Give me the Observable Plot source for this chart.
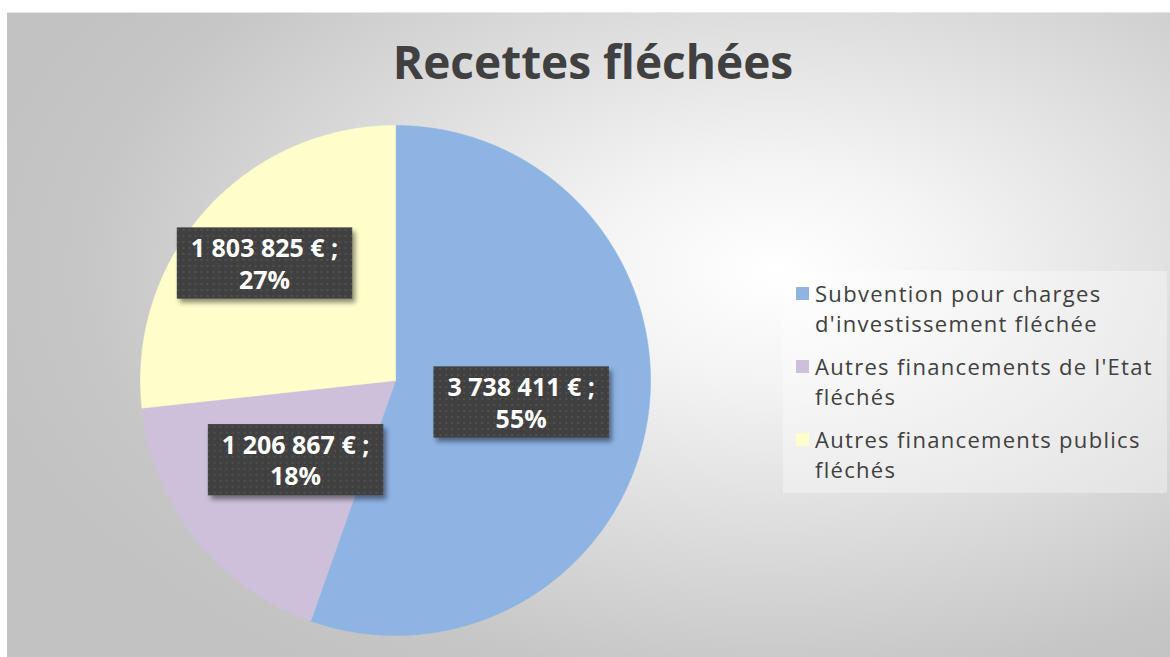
<!DOCTYPE html>
<html>
<head>
<meta charset="utf-8">
<script src="https://cdn.jsdelivr.net/npm/d3@7"></script>
<script src="https://cdn.jsdelivr.net/npm/@observablehq/plot@0.6"></script>
<style>
  html, body { margin: 0; padding: 0; background: #ffffff; }
  #chart {
    position: absolute; left: 7px; top: 12px; width: 1163px; height: 645px;
    background: radial-gradient(ellipse 70% 75% at 66% 40%, #ffffff 0%, #f4f4f4 22%, #dcdcdc 55%, #c6c6c6 85%, #c2c2c2 100%);
    border-top: 1px solid #e6e6e6;
    overflow: hidden;
    font-family: "Open Sans", sans-serif;
  }
  #chart svg { position: absolute; left: 0; top: 0; }
  #legend {
    position: absolute; left: 776px; top: 258px; width: 384px; height: 222px;
    background: rgba(255,255,255,0.35);
  }
  .item { position: absolute; left: 32px; font-size: 22px; line-height: 30px; letter-spacing: 1.3px; color: #404040; white-space: nowrap; }
  .sw { position: absolute; left: -19px; top: 9px; width: 13px; height: 13px; }
</style>
</head>
<body>
<div id="chart"><div id="legend"></div></div>
<script>
// ---- data ----
const categories = [
  "Subvention pour charges d'investissement fléchée",
  "Autres financements de l'Etat fléchés",
  "Autres financements publics fléchés"
];
const legendLines = [
  ["Subvention pour charges", "d'investissement fléchée"],
  ["Autres financements de l'Etat", "fléchés"],
  ["Autres financements publics", "fléchés"]
];
const values = [3738411, 1206867, 1803825];
const colors = ["#8EB4E3", "#CCC0DA", "#FFFFCC"];
const title = "Recettes fléchées";

// ---- layout constants ----
const W = 1163, H = 645;
const cx = 388, cy = 367, R = 255;
const labelRadius = [0.5, 0.5, 0.69];

const total = d3.sum(values);
const pie = d3.pie().sort(null).value(d => d)(values);

const fr = d3.formatLocale({decimal: ",", thousands: " ", grouping: [3], currency: ["", " €"]});
const fmt = fr.format(",d");

// slice outlines (unit circle coordinates derived from pie angles)
const pts = [];
pie.forEach((s, i) => {
  const cat = categories[i];
  pts.push({cat, x: 0, y: 0});
  const n = Math.max(2, Math.ceil((s.endAngle - s.startAngle) / 0.005));
  for (let k = 0; k <= n; k++) {
    const a = s.startAngle + (s.endAngle - s.startAngle) * k / n;
    pts.push({cat, x: Math.sin(a), y: Math.cos(a)});
  }
  pts.push({cat, x: 0, y: 0});
});

const labels = pie.map((s, i) => {
  const a = (s.startAngle + s.endAngle) / 2;
  const r = labelRadius[i];
  return {
    x: r * Math.sin(a), y: r * Math.cos(a),
    text: fmt(values[i]) + " € ;\n" + Math.round(values[i] / total * 100) + "%"
  };
});

const plot = Plot.plot({
  width: W, height: H,
  margin: 0,
  style: {background: "transparent", overflow: "visible"},
  x: {domain: [-1, 1], range: [cx - R, cx + R], axis: null},
  y: {domain: [-1, 1], range: [cy + R, cy - R], axis: null},
  color: {domain: categories, range: colors},
  marks: [
    Plot.line(pts, {x: "x", y: "y", z: "cat", fill: "cat", stroke: "cat", strokeWidth: 0.6, curve: "linear"}),
    Plot.text(labels, {
      x: "x", y: "y", text: "text",
      fill: "white", fontWeight: "bold", fontSize: 25, lineHeight: 1.25,
      fontFamily: "Open Sans, sans-serif", className: "lbl"
    }),
    Plot.text([title], {
      frameAnchor: "top", dx: 4, dy: 33, text: d => d,
      fill: "#404040", fontWeight: "bold", fontSize: 46, fontFamily: "Open Sans, sans-serif",
      lineAnchor: "top"
    })
  ]
});

const chart = document.getElementById("chart");
chart.insertBefore(plot, chart.firstChild);

// label boxes (dotted dark fill with shadow)
const svg = d3.select(plot);
const defs = svg.insert("defs", ":first-child");
const pat = defs.append("pattern").attr("id", "dots").attr("patternUnits", "userSpaceOnUse")
  .attr("width", 6).attr("height", 6);
pat.append("rect").attr("width", 6).attr("height", 6).attr("fill", "#404040");
pat.append("circle").attr("cx", 3).attr("cy", 3).attr("r", 1.1).attr("fill", "#545454");
const f = defs.append("filter").attr("id", "shadow").attr("x", "-20%").attr("y", "-20%").attr("width", "150%").attr("height", "150%");
f.append("feDropShadow").attr("dx", 3).attr("dy", 4).attr("stdDeviation", 2.5).attr("flood-color", "#000").attr("flood-opacity", 0.45);

svg.selectAll("g.lbl text").each(function() {
  const b = this.getBBox();
  const padX = 14, padY = 3;
  const tr = this.getAttribute("transform");
  const r = d3.select(this.parentNode).insert("rect", () => this)
    .attr("x", b.x - padX).attr("y", b.y - padY)
    .attr("width", b.width + 2 * padX).attr("height", b.height + 2 * padY)
    .attr("fill", "url(#dots)").attr("filter", "url(#shadow)");
  if (tr) r.attr("transform", tr);
  if (this.getAttribute("x") && !tr) {
    r.attr("x", +this.getAttribute("x") + b.x - padX);
  }
});

// legend
const legend = d3.select("#legend");
legendLines.forEach((lines, i) => {
  const it = legend.append("div").attr("class", "item").style("top", (7 + i * 73) + "px");
  it.append("div").attr("class", "sw").style("background", colors[i]);
  it.append("div").html(lines.join("<br>"));
});
</script>
</body>
</html>
